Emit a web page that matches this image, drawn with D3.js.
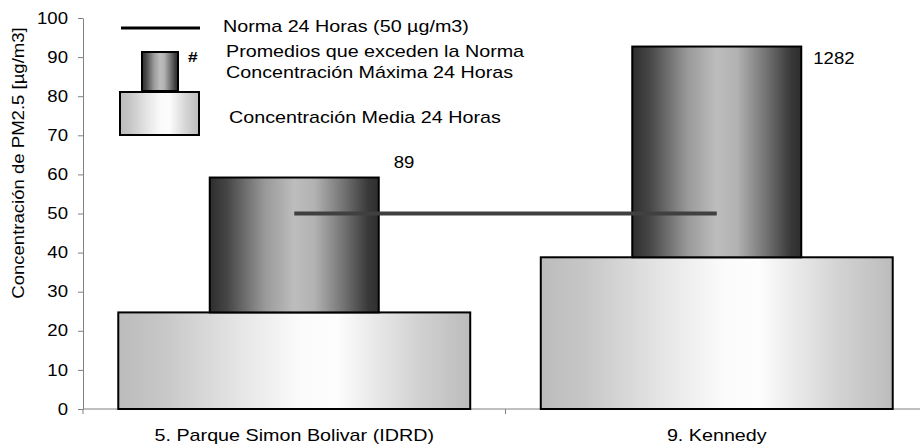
<!DOCTYPE html>
<html>
<head>
<meta charset="utf-8">
<script src="https://cdn.jsdelivr.net/npm/d3@7"></script>
<style>
  body { margin: 0; background: #fff; }
  text { font-family: "Liberation Sans", Arial, sans-serif; fill: #000; }
</style>
</head>
<body>
<svg id="chart"></svg>
<script>
// Chart data
let stations = ["5. Parque Simon Bolivar (IDRD)", "9. Kennedy"];
let meanConc = [24.7, 38.8];     // Concentración Media 24 Horas
let maxConc = [59.2, 92.7];      // Concentración Máxima 24 Horas
let exceedLabels = ["89", "1282"]; // Promedios que exceden la Norma
let norma = 50;
let yTicks = [0, 10, 20, 30, 40, 50, 60, 70, 80, 90, 100];

let width = 920,
    height = 446;

// The original text is a bit wider than plain Arial, so stretch it sideways
let stretchX = 1.16;
let place = (px, py) => `translate(${px},${py}) scale(${stretchX},1)`;

let svg = d3.select("#chart")
    .attr("width", width)
    .attr("height", height);

// Scales
let x = d3.scaleBand()
    .domain(stations)
    .range([83, 928]);

let y = d3.scaleLinear()
    .domain([0, 100])
    .range([409, 18]);

let defs = svg.append("defs");

// Dark cylinder-like gradient for the max bars
let gradMax = defs.append("linearGradient").attr("id", "gradMax");
[[0, "#2e2e2e"], [0.1, "#454545"], [0.33, "#9a9a9a"], [0.5, "#bdbdbd"],
 [0.62, "#b2b2b2"], [0.8, "#707070"], [0.94, "#383838"], [1, "#2e2e2e"]]
    .forEach(s => gradMax.append("stop").attr("offset", s[0]).attr("stop-color", s[1]));

// Light gradient for the mean bars
let gradMean = defs.append("linearGradient").attr("id", "gradMean");
[[0, "#bcbcbc"], [0.12, "#c6c6c6"], [0.35, "#e6e6e6"], [0.52, "#fbfbfb"],
 [0.62, "#fdfdfd"], [0.85, "#d2d2d2"], [1, "#bcbcbc"]]
    .forEach(s => gradMean.append("stop").attr("offset", s[0]).attr("stop-color", s[1]));

let meanW = x.bandwidth() * 0.833,
    maxW = x.bandwidth() * 0.40;

// Y axis
let yAxis = svg.append("g")
    .attr("transform", "translate(83,0)")
    .call(d3.axisLeft(y).tickValues(yTicks).tickSize(5).tickSizeOuter(0).tickPadding(10));
yAxis.selectAll("path, line").attr("stroke", "#808080");
yAxis.selectAll("text")
    .style("font-size", "16px")
    .attr("fill", "#000")
    .each(function() {
        let t = d3.select(this);
        let tx = +t.attr("x");
        t.attr("x", 0).attr("transform", place(tx, 0));
    });

// X axis line and category ticks
svg.append("line")
    .attr("x1", 83).attr("x2", width)
    .attr("y1", y(0)).attr("y2", y(0))
    .attr("stroke", "#808080");

svg.selectAll(".xtick")
    .data(stations)
    .enter().append("line")
    .attr("class", "xtick")
    .attr("x1", d => x(d)).attr("x2", d => x(d))
    .attr("y1", y(0)).attr("y2", y(0) + 5)
    .attr("stroke", "#808080");

svg.selectAll(".xlabel")
    .data(stations)
    .enter().append("text")
    .attr("class", "xlabel")
    .attr("transform", d => place(x(d) + x.bandwidth() / 2, 441))
    .attr("text-anchor", "middle")
    .style("font-size", "17px")
    .text(d => d);

// Y axis title
svg.append("text")
    .attr("transform", `translate(24,163) rotate(-90) scale(${stretchX},1)`)
    .attr("text-anchor", "middle")
    .style("font-size", "16px")
    .text("Concentración de PM2.5 [µg/m3]");

// Mean bars
svg.selectAll(".mean")
    .data(stations)
    .enter().append("rect")
    .attr("class", "mean")
    .attr("x", d => x(d) + (x.bandwidth() - meanW) / 2)
    .attr("width", meanW)
    .attr("y", (d, i) => y(meanConc[i]))
    .attr("height", (d, i) => y(0) - y(meanConc[i]))
    .attr("fill", "url(#gradMean)")
    .attr("stroke", "#000")
    .attr("stroke-width", 2);

// Max bars sit on top of the mean bars
svg.selectAll(".max")
    .data(stations)
    .enter().append("rect")
    .attr("class", "max")
    .attr("x", d => x(d) + (x.bandwidth() - maxW) / 2)
    .attr("width", maxW)
    .attr("y", (d, i) => y(maxConc[i]))
    .attr("height", (d, i) => y(meanConc[i]) - y(maxConc[i]))
    .attr("fill", "url(#gradMax)")
    .attr("stroke", "#000")
    .attr("stroke-width", 2);

// Norma line between the two stations
svg.append("line")
    .attr("x1", x(stations[0]) + x.bandwidth() / 2)
    .attr("x2", x(stations[1]) + x.bandwidth() / 2)
    .attr("y1", y(norma)).attr("y2", y(norma))
    .attr("stroke", "#404040")
    .attr("stroke-width", 4);

// Exceedance counts next to the max bars
let labelShift = [-10, 17];
let labelGap = [15, 12];
svg.selectAll(".count")
    .data(exceedLabels)
    .enter().append("text")
    .attr("class", "count")
    .attr("transform", (d, i) => place(
        x(stations[i]) + (x.bandwidth() + maxW) / 2 + labelGap[i],
        y(maxConc[i]) + labelShift[i]))
    .style("font-size", "16px")
    .text(d => d);

// Legend
let legend = svg.append("g");

legend.append("line")
    .attr("x1", 121).attr("x2", 200)
    .attr("y1", 28).attr("y2", 28)
    .attr("stroke", "#000")
    .attr("stroke-width", 3);

legend.append("rect")
    .attr("x", 142).attr("y", 52)
    .attr("width", 36).attr("height", 39)
    .attr("fill", "url(#gradMax)")
    .attr("stroke", "#000")
    .attr("stroke-width", 2);

legend.append("rect")
    .attr("x", 120).attr("y", 92)
    .attr("width", 79).attr("height", 43)
    .attr("fill", "url(#gradMean)")
    .attr("stroke", "#000")
    .attr("stroke-width", 2);

legend.append("text")
    .attr("transform", place(188, 62))
    .style("font-size", "15px")
    .style("font-weight", "bold")
    .text("#");

let legendRows = [
    ["Norma 24 Horas (50 µg/m3)", 223, 32],
    ["Promedios que exceden la Norma", 226, 57],
    ["Concentración Máxima 24 Horas", 226, 78],
    ["Concentración Media 24 Horas", 229, 123]
];
legend.selectAll(".ltext")
    .data(legendRows)
    .enter().append("text")
    .attr("class", "ltext")
    .attr("transform", d => place(d[1], d[2]))
    .style("font-size", "17px")
    .text(d => d[0]);
</script>
</body>
</html>
